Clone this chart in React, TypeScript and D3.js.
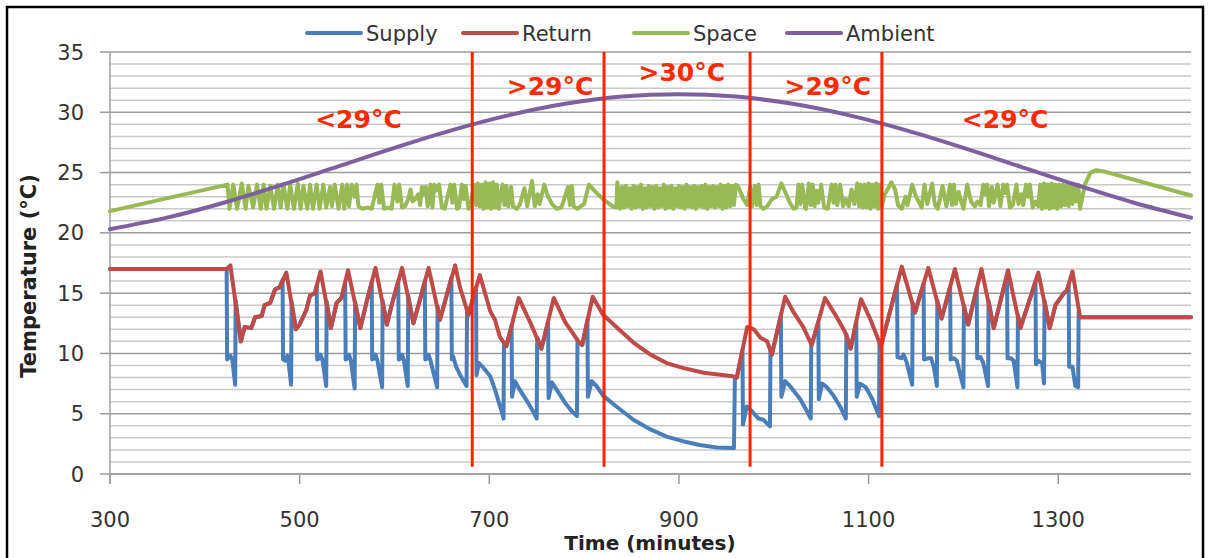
import React, { useEffect, useRef } from 'react';
import * as d3 from 'd3';

const ticksX = [300, 500, 700, 900, 1100, 1300];
const ticksY = [0, 5, 10, 15, 20, 25, 30, 35];
const gridY = d3.range(0, 36);

const seriesNames = ['Supply', 'Return', 'Space', 'Ambient'];
const seriesColors = ['#4a7ebb', '#be4b48', '#98b954', '#7d60a0'];

const supply = [
  [300, 17.0], [423, 17.0], [423.5, 9.5], [427, 9.8], [429, 9.5], [432, 7.4], [432.5, 14.4], [438, 11.0], [442, 12.2], [449, 12.1], [453, 13.0], [460, 13.1], [463, 14.0], [469, 14.2], [474, 15.3], [479, 15.5],
  [482, 16.1], [482.5, 9.5], [485, 9.4], [487, 9.8], [488, 9.5], [491, 7.4], [491.5, 14.3], [496, 12.0], [500, 12.4], [507, 13.6], [511, 14.8], [516, 15.0],
  [518, 15.6], [518.5, 9.5], [521, 9.6], [522, 9.9], [524, 9.5], [528, 7.3], [528.5, 14.3], [533, 12.1], [539, 14.2], [544, 14.6],
  [548, 15.8], [548.5, 9.5], [551, 9.6], [552, 9.9], [554, 9.4], [558, 7.1], [558.5, 14.3], [564, 12.1], [571, 14.4],
  [576, 15.9], [576.5, 9.5], [579, 9.6], [580, 9.9], [582, 9.4], [587, 7.2], [587.5, 14.4], [592, 12.4], [597, 14.0],
  [604, 16.0], [604.5, 9.5], [607, 9.6], [608, 9.9], [610, 9.4], [614, 7.3], [614.5, 14.8], [620, 12.5], [627, 14.5],
  [632, 16.0], [632.5, 9.5], [635, 9.6], [636, 9.9], [638, 9.4], [645, 7.2], [645.5, 13.9], [648, 12.8], [655, 14.8],
  [660, 16.3], [660.5, 9.5], [662, 9.75], [665, 8.9], [670, 8.1], [676, 7.3], [676.5, 13.4], [678, 13.2],
  [686, 15.5], [686.5, 8.2], [689, 9.2], [694, 8.8], [701, 8.1], [706, 7.0], [713, 5.2], [715, 4.6], [715.5, 10.9], [718, 10.6],
  [723.5, 12.3], [724, 6.4], [727, 7.7], [732, 7.0], [741, 5.9], [746, 5.2], [750, 4.6], [750.5, 11.3], [755, 10.4],
  [762, 12.6], [762.5, 6.3], [766, 7.6], [771, 7.0], [780, 5.9], [787, 5.2], [792.5, 4.8], [793, 11.1], [794, 11.0], [798, 10.7],
  [803.5, 12.8], [804, 6.4], [808, 7.7], [813, 7.3], [820, 6.5], [834, 5.6], [852, 4.5], [870, 3.7], [887, 3.1], [905, 2.7], [922, 2.4], [940, 2.2], [958, 2.15], [959, 8.0], [961, 8.0],
  [967, 10.3], [967.5, 4.1], [971.5, 5.6], [977, 5.2], [984, 4.6], [989, 4.5], [996, 3.95], [996.5, 10.3], [998, 9.9],
  [1007.5, 13.2], [1008, 6.4], [1012, 7.7], [1017, 7.3], [1028, 6.2], [1035, 5.2], [1039, 4.6], [1039.5, 10.8], [1040, 10.7],
  [1047, 12.6], [1047.5, 6.2], [1051, 7.5], [1056, 7.2], [1063, 6.5], [1070, 5.6], [1076, 4.6], [1076.5, 11.6], [1081, 10.4],
  [1087, 12.6], [1087.5, 6.4], [1091, 7.5], [1097, 7.2], [1104, 6.2], [1111, 4.8], [1111.5, 10.9], [1113, 10.6],
  [1130, 15.7], [1130.5, 9.7], [1135, 9.6], [1137, 9.9], [1140, 9.3], [1146, 7.4], [1146.5, 14.2], [1149, 13.4],
  [1158, 15.8], [1158.5, 9.5], [1163, 9.6], [1166, 9.6], [1169, 8.8], [1172, 7.3], [1172.5, 14.4], [1177, 12.9],
  [1186, 15.5], [1186.5, 9.5], [1190, 9.6], [1193, 9.4], [1200, 7.2], [1200.5, 14.0], [1205, 12.4],
  [1214, 15.4], [1214.5, 9.6], [1218, 9.7], [1221, 9.2], [1226, 7.3], [1226.5, 14.4], [1232, 12.1],
  [1246, 16.5], [1246.5, 9.6], [1250, 9.6], [1253, 9.4], [1257, 7.2], [1257.5, 13.2], [1260, 12.1], [1268, 14.0],
  [1276, 16.0], [1276.5, 9.1], [1279, 9.4], [1283, 9.2], [1285, 7.5], [1285.5, 14.4], [1291, 12.1], [1297, 14.0], [1306, 15.0], [1309, 15.2],
  [1311, 15.7], [1311.5, 8.9], [1315, 8.9], [1318, 7.3], [1321, 7.2], [1321.5, 13.5], [1323, 13.0], [1440, 13.0],
];

const returnTemp = [
  [300, 17.0], [423, 17.0], [427, 17.3], [438, 11.0], [442, 12.2], [449, 12.1], [453, 13.0], [460, 13.1], [463, 14.0], [469, 14.2], [474, 15.3], [479, 15.5], [486, 16.7],
  [496, 12.0], [500, 12.4], [507, 13.6], [511, 14.8], [516, 15.0], [522, 16.8], [533, 12.1], [539, 14.2], [544, 14.6], [551, 16.9],
  [564, 12.1], [571, 14.4], [580, 17.1], [592, 12.4], [597, 14.0], [608, 17.1], [620, 12.5], [627, 14.5], [636, 17.1],
  [648, 12.8], [655, 14.8], [664, 17.3], [669, 15.5], [678, 13.2], [690, 16.5], [701, 13.5], [706, 12.8], [711, 11.4], [718, 10.6],
  [731, 14.6], [743, 12.6], [755, 10.4], [768, 14.6], [780, 12.6], [794, 11.0], [798, 10.7], [809, 14.7],
  [820, 13.2], [834, 12.2], [852, 10.9], [870, 9.9], [887, 9.2], [904, 8.8], [926, 8.4], [957, 8.1], [961, 8.0],
  [972, 12.2], [979, 12.0], [986, 11.3], [993, 11.0], [998, 9.9], [1012, 14.7], [1021, 13.4], [1031, 12.2], [1040, 10.7],
  [1054, 14.6], [1065, 13.2], [1075, 11.8], [1081, 10.4], [1092, 14.5], [1102, 12.8], [1113, 10.6],
  [1135, 17.2], [1149, 13.4], [1163, 17.1], [1177, 12.9], [1191, 17.0], [1205, 12.4], [1219, 17.0], [1232, 12.1], [1247, 16.9],
  [1260, 12.1], [1268, 14.0], [1279, 16.7], [1291, 12.1], [1297, 14.0], [1306, 15.0], [1309, 15.2], [1315, 16.8], [1323, 13.0], [1440, 13.0],
];

const space = [
  [300, 21.8], [424, 24.0], [426, 22.0],
  [430, 24.0], [434, 22.0], [439, 24.1], [443, 22.0], [446, 23.9], [451, 22.1], [455, 24.0], [459, 22.0], [462, 24.0], [465, 22.0], [469, 23.9], [473, 22.0], [477, 24.0], [480, 22.1],
  [483, 24.0], [487, 22.0], [490, 24.0], [494, 22.0], [498, 24.1], [501, 22.0], [504, 23.9], [508, 22.0], [511, 24.0], [514, 22.0],
  [518, 24.0], [521, 22.0], [525, 24.0], [528, 22.1], [532, 23.8], [534, 22.2], [537, 24.0], [541, 22.0], [545, 24.0], [547, 22.0], [550, 24.0], [552, 22.2],
  [555, 24.0], [558, 23.0], [560, 24.0], [562, 22.2], [566, 22.0], [572, 22.1], [576, 22.0], [582, 24.0], [584, 22.5], [586, 24.0], [589, 22.0], [594, 22.1], [597, 22.0],
  [600, 24.0], [603, 22.6], [605, 24.0], [608, 22.1], [611, 22.2], [614, 22.7], [617, 23.6], [619, 22.6], [622, 22.8], [625, 23.2], [627, 22.3], [629, 23.8], [631, 23.2],
  [633, 23.8], [635, 22.2], [638, 24.0], [640, 22.1], [642, 24.0], [644, 23.5], [647, 24.0], [650, 22.1], [653, 22.0], [659, 24.0], [661, 22.5], [663, 24.0], [666, 22.0],
  [668, 22.1], [671, 24.0], [673, 22.8], [675, 23.9], [678, 22.0], [680, 22.2], [684, 24.0], [686, 22.3], [688, 24.1], [690, 22.2], [692, 24.0], [694, 22.0], [696, 24.2],
  [698, 22.1], [700, 24.1], [702, 22.0], [704, 24.2], [706, 22.1], [708, 24.0], [710, 22.0], [714, 24.0], [716, 22.3], [718, 23.9], [720, 22.2], [723, 23.8], [725, 22.2],
  [729, 22.0], [732, 22.3], [737, 23.7], [740, 22.2], [745, 24.3], [748, 22.2], [751, 23.2], [753, 22.4], [758, 24.0], [761, 23.2], [766, 22.4], [771, 22.0], [776, 22.1],
  [783, 23.8], [785, 22.3], [787, 23.9], [789, 22.2], [793, 22.0], [800, 22.4], [805, 24.0], [812, 23.4], [820, 22.8], [830, 22.2], [834, 22.1], [835, 24.2],
  [838, 22.0], [840, 23.8], [842, 22.1], [844, 23.9], [846, 22.2], [848, 23.7], [850, 22.0], [852, 23.9], [854, 22.1], [856, 23.8], [858, 22.2], [860, 24.0], [862, 22.0],
  [864, 23.7], [866, 22.1], [868, 23.9], [870, 22.2], [872, 23.8], [874, 22.0], [876, 23.9], [878, 22.1], [880, 23.7], [882, 22.2], [884, 24.0], [886, 22.0], [888, 23.8],
  [890, 22.1], [892, 23.9], [894, 22.0], [896, 23.7], [898, 22.2], [900, 23.9], [902, 22.1], [904, 23.8], [906, 22.0], [908, 24.0], [910, 22.2], [912, 23.8], [914, 22.1],
  [916, 23.9], [918, 22.0], [920, 23.8], [922, 22.2], [924, 23.9], [926, 22.1], [928, 24.0], [930, 22.0], [932, 23.8], [934, 22.2], [936, 23.9], [938, 22.1], [940, 23.8],
  [942, 22.2], [944, 24.0], [946, 22.0], [948, 23.9], [950, 22.1], [952, 24.0], [954, 22.2], [956, 23.9], [958, 22.3], [960, 24.0], [962, 23.9],
  [968, 22.8], [972, 22.3], [975, 23.8], [977, 22.2], [980, 23.9], [982, 22.3], [984, 24.0], [986, 22.2], [989, 22.0], [993, 22.2], [998, 22.8], [1003, 23.0], [1008, 24.1],
  [1012, 23.4], [1017, 22.5], [1021, 22.0], [1024, 22.1], [1026, 24.0], [1028, 22.4], [1030, 24.0], [1033, 22.1], [1034, 22.0], [1037, 24.1], [1039, 22.3], [1041, 24.0],
  [1043, 22.2], [1045, 23.5], [1047, 22.5], [1050, 24.0], [1053, 22.1], [1057, 22.0], [1061, 24.0], [1063, 22.5], [1065, 24.0], [1067, 22.3], [1070, 24.0], [1073, 22.2],
  [1076, 22.8], [1079, 22.2], [1082, 23.6], [1085, 22.4], [1088, 24.1], [1090, 22.2], [1092, 24.0], [1094, 22.1], [1096, 24.0], [1098, 22.1], [1100, 24.1], [1102, 22.0],
  [1104, 24.0], [1106, 22.2], [1108, 24.1], [1110, 22.0], [1112, 24.0], [1114, 22.2], [1117, 23.2], [1120, 23.6], [1124, 24.2], [1128, 23.6], [1131, 22.3], [1135, 22.0],
  [1139, 23.0], [1141, 22.3], [1146, 24.0], [1150, 23.0], [1156, 22.1], [1159, 24.0], [1162, 22.4], [1167, 24.1], [1170, 22.3], [1173, 22.0], [1178, 23.9], [1182, 22.2],
  [1186, 24.0], [1188, 22.3], [1190, 24.0], [1192, 22.4], [1195, 23.4], [1198, 22.5], [1200, 22.0], [1204, 24.0], [1208, 22.6], [1212, 22.2], [1215, 22.6], [1218, 22.3],
  [1221, 24.0], [1223, 23.2], [1225, 24.0], [1227, 22.2], [1230, 23.8], [1232, 22.5], [1236, 24.0], [1239, 22.2], [1242, 24.0], [1244, 23.3], [1246, 24.0], [1249, 22.1],
  [1252, 22.3], [1256, 24.0], [1258, 22.4], [1261, 23.2], [1263, 22.3], [1266, 24.0], [1268, 23.0], [1270, 24.0], [1273, 22.1], [1276, 22.6], [1279, 22.2], [1281, 24.0],
  [1283, 22.0], [1285, 24.1], [1287, 22.1], [1289, 24.0], [1291, 22.0], [1293, 24.1], [1295, 22.1], [1297, 24.0], [1299, 22.0], [1301, 24.0], [1303, 22.2], [1305, 24.0],
  [1307, 22.3], [1309, 23.9], [1311, 22.2], [1313, 24.0], [1315, 22.4], [1317, 24.0], [1319, 22.6], [1321, 24.0], [1323, 22.0],
  [1328, 24.0], [1334, 25.0], [1340, 25.2], [1348, 25.1], [1440, 23.1],
];

const ambient = [
  [300, 20.3], [360, 21.26], [420, 22.5], [480, 23.95], [540, 25.5], [600, 27.05], [660, 28.5], [720, 29.74], [780, 30.7], [840, 31.3], [900, 31.5],
  [960, 31.3], [1020, 30.7], [1080, 29.74], [1140, 28.5], [1200, 27.05], [1260, 25.5], [1320, 23.95], [1380, 22.5], [1440, 21.26],
];

const zoneLines = [682, 821, 975, 1114];
const zoneLabels = [
  { t: 562, v: 28.7, text: '<29°C' },
  { t: 764, v: 31.4, text: '>29°C' },
  { t: 903, v: 32.6, text: '>30°C' },
  { t: 1057, v: 31.4, text: '>29°C' },
  { t: 1244, v: 28.7, text: '<29°C' },
];

const FONT = '"DejaVu Sans", sans-serif';

const TemperatureChart = () => {
  const svgRef = useRef(null);

  useEffect(() => {
    const svg = d3.select(svgRef.current);
    svg.selectAll('*').remove();

    const x = d3.scaleLinear().domain([300, 1440]).range([110, 1191]);
    const y = d3.scaleLinear().domain([0, 35]).range([474, 52]);

    svg.append('rect').attr('width', 1209).attr('height', 558).attr('fill', '#fff');

    // horizontal gridlines, darker every 5
    svg.append('g').selectAll('line').data(gridY).enter().append('line')
      .attr('x1', x(300)).attr('x2', x(1440))
      .attr('y1', d => y(d)).attr('y2', d => y(d))
      .attr('stroke', d => (d % 5 === 0 ? '#9c9c9c' : '#cacaca'))
      .attr('stroke-width', 1.5);

    // axes
    svg.append('line').attr('x1', x(300)).attr('x2', x(300)).attr('y1', y(35)).attr('y2', y(0) + 10)
      .attr('stroke', '#a0a0a0').attr('stroke-width', 1.5);
    svg.append('line').attr('x1', x(300)).attr('x2', x(1440)).attr('y1', y(0)).attr('y2', y(0))
      .attr('stroke', '#9c9c9c').attr('stroke-width', 1.5);

    svg.append('g').selectAll('line').data(ticksY).enter().append('line')
      .attr('x1', x(300) - 10).attr('x2', x(300))
      .attr('y1', d => y(d)).attr('y2', d => y(d))
      .attr('stroke', '#9c9c9c').attr('stroke-width', 1.5);
    svg.append('g').selectAll('line').data(ticksX).enter().append('line')
      .attr('x1', d => x(d)).attr('x2', d => x(d))
      .attr('y1', y(0)).attr('y2', y(0) + 10)
      .attr('stroke', '#9c9c9c').attr('stroke-width', 1.5);

    svg.append('g').selectAll('text').data(ticksY).enter().append('text')
      .attr('x', 84).attr('y', d => y(d)).attr('dy', '0.36em')
      .attr('text-anchor', 'end')
      .style('font-family', FONT).style('font-size', '21px').style('fill', '#333')
      .text(d => d);
    svg.append('g').selectAll('text').data(ticksX).enter().append('text')
      .attr('x', d => x(d)).attr('y', 527)
      .attr('text-anchor', 'middle')
      .style('font-family', FONT).style('font-size', '21px').style('fill', '#333')
      .text(d => d);

    svg.append('text')
      .attr('x', 650).attr('y', 550).attr('text-anchor', 'middle')
      .style('font-family', FONT).style('font-size', '20px').style('font-weight', 'bold').style('fill', '#222')
      .text('Time (minutes)');
    svg.append('text')
      .attr('transform', 'translate(36,276) rotate(-90)').attr('text-anchor', 'middle')
      .style('font-family', FONT).style('font-size', '21px').style('font-weight', 'bold').style('fill', '#222')
      .text('Temperature (°C)');

    // series (ambient is a smooth curve in the source)
    const line = d3.line().x(d => x(d[0])).y(d => y(d[1]));
    const smooth = d3.line().x(d => x(d[0])).y(d => y(d[1])).curve(d3.curveCatmullRom);
    [supply, returnTemp, space, ambient].forEach((data, i) => {
      svg.append('path')
        .datum(data)
        .attr('d', i === 3 ? smooth : line)
        .attr('fill', 'none')
        .attr('stroke', seriesColors[i])
        .attr('stroke-width', 4)
        .attr('stroke-linejoin', 'round')
        .attr('stroke-linecap', 'round');
    });

    // zone markers
    svg.append('g').selectAll('line').data(zoneLines).enter().append('line')
      .attr('x1', d => x(d)).attr('x2', d => x(d))
      .attr('y1', y(35)).attr('y2', y(0.6))
      .attr('stroke', '#ff2200').attr('stroke-width', 3);
    svg.append('g').selectAll('text').data(zoneLabels).enter().append('text')
      .attr('x', d => x(d.t)).attr('y', d => y(d.v))
      .attr('text-anchor', 'middle')
      .style('font-family', FONT).style('font-size', '25px').style('font-weight', 'bold').style('fill', '#ff2a00')
      .text(d => d.text);

    // legend
    const legendX = [307, 463, 634, 787];
    seriesNames.forEach((name, i) => {
      svg.append('line')
        .attr('x1', legendX[i]).attr('x2', legendX[i] + 54)
        .attr('y1', 33).attr('y2', 33)
        .attr('stroke', seriesColors[i]).attr('stroke-width', 4).attr('stroke-linecap', 'round');
      svg.append('text')
        .attr('x', legendX[i] + 59).attr('y', 41)
        .style('font-family', FONT).style('font-size', '21px').style('fill', '#333')
        .text(name);
    });

    // outer frame
    svg.append('rect')
      .attr('x', 7).attr('y', 7).attr('width', 1196).attr('height', 600)
      .attr('fill', 'none').attr('stroke', '#000').attr('stroke-width', 2.5);
  }, []);

  return (
    <svg
      ref={svgRef}
      width={1209}
      height={558}
      style={{ position: 'absolute', left: 0, top: 0, display: 'block' }}
    />
  );
};

export default function App() {
  return <TemperatureChart />;
}
